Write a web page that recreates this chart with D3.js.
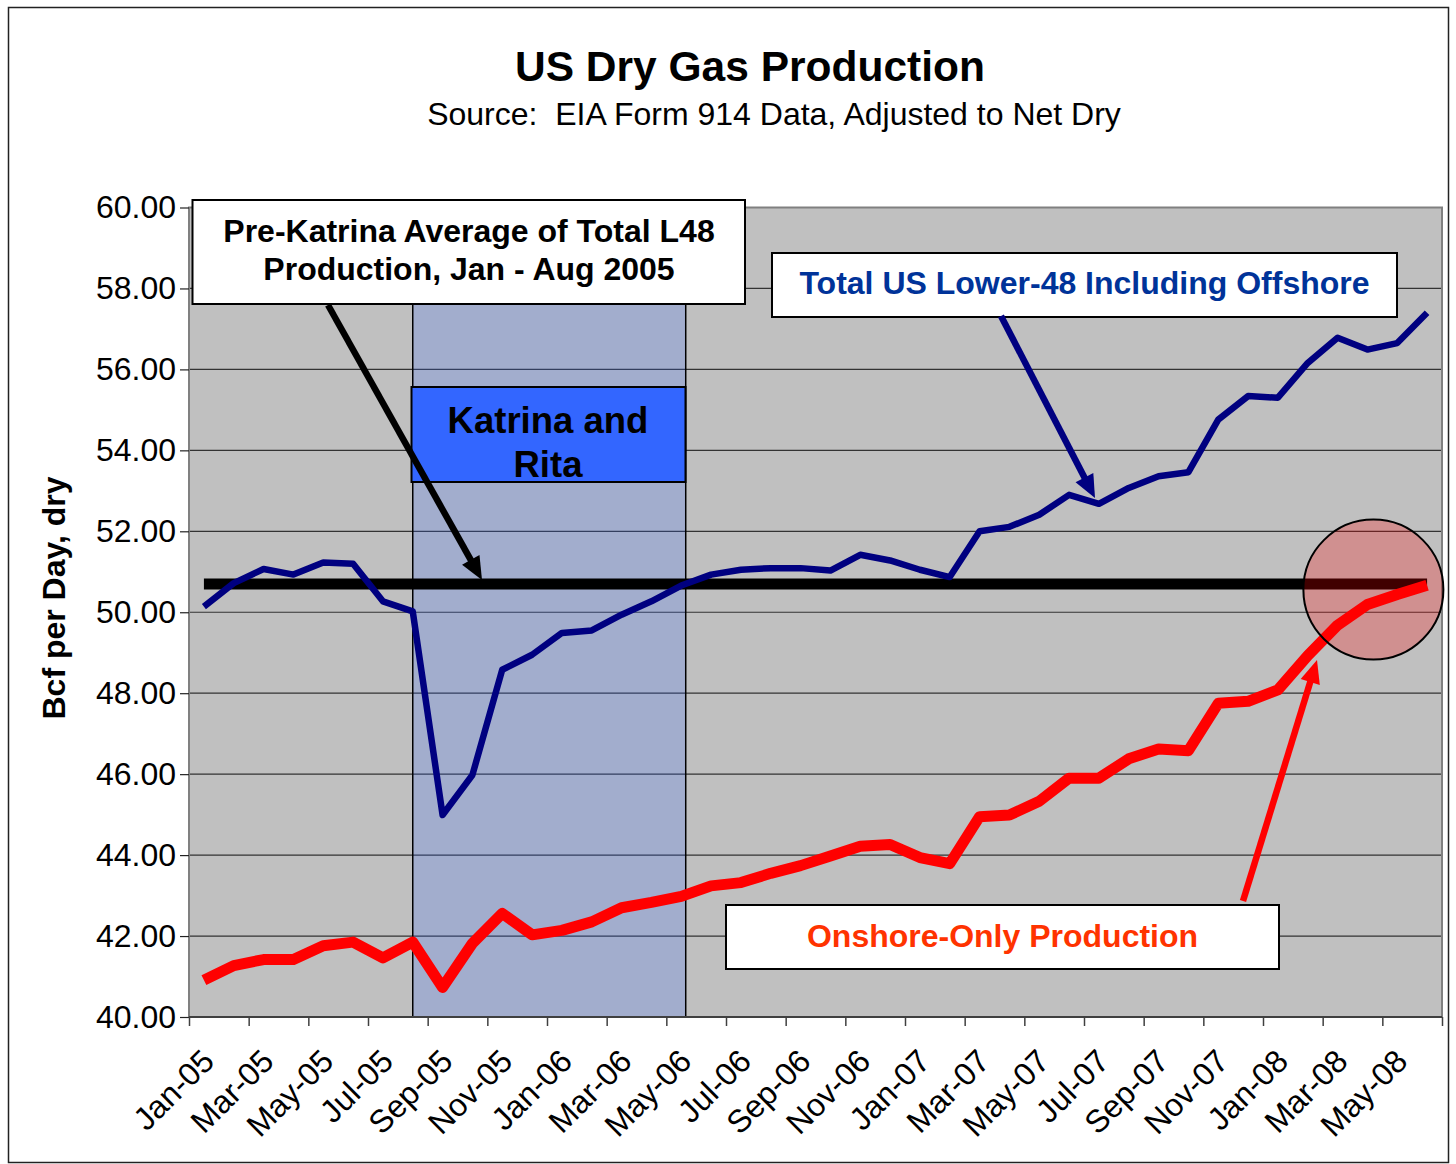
<!DOCTYPE html>
<html>
<head>
<meta charset="utf-8">
<script src="https://cdn.jsdelivr.net/npm/d3@7"></script>
<style>
  body { margin: 0; background: #fff; }
  svg text { font-family: "Liberation Sans", Arial, sans-serif; }
</style>
</head>
<body>
<div id="chart"></div>
<script>
// monthly categories, Jan-05 .. Jun-08
const months = [
  "Jan-05", "Feb-05", "Mar-05", "Apr-05", "May-05", "Jun-05", "Jul-05", "Aug-05", "Sep-05", "Oct-05", "Nov-05", "Dec-05",
  "Jan-06", "Feb-06", "Mar-06", "Apr-06", "May-06", "Jun-06", "Jul-06", "Aug-06", "Sep-06", "Oct-06", "Nov-06", "Dec-06",
  "Jan-07", "Feb-07", "Mar-07", "Apr-07", "May-07", "Jun-07", "Jul-07", "Aug-07", "Sep-07", "Oct-07", "Nov-07", "Dec-07",
  "Jan-08", "Feb-08", "Mar-08", "Apr-08", "May-08", "Jun-08"
];

// Bcf per day, dry
const totalL48 = [
  50.14, 50.72, 51.07, 50.93, 51.23, 51.20, 50.27, 50.02, 44.99, 45.98, 48.58, 48.95,
  49.49, 49.55, 49.94, 50.27, 50.66, 50.93, 51.05, 51.09, 51.09, 51.03, 51.42, 51.28,
  51.05, 50.87, 52.00, 52.11, 52.41, 52.90, 52.68, 53.07, 53.36, 53.46, 54.76, 55.34,
  55.30, 56.16, 56.78, 56.49, 56.65, 57.40
];

const onshore = [
  40.91, 41.27, 41.42, 41.42, 41.76, 41.85, 41.46, 41.85, 40.73, 41.82, 42.56, 42.03,
  42.14, 42.35, 42.70, 42.83, 42.98, 43.24, 43.32, 43.55, 43.74, 43.98, 44.22, 44.26,
  43.94, 43.79, 44.95, 44.99, 45.33, 45.90, 45.90, 46.38, 46.62, 46.58, 47.75, 47.80,
  48.08, 48.93, 49.68, 50.19, 50.44, 50.67
];

const yTicks = [40, 42, 44, 46, 48, 50, 52, 54, 56, 58, 60];

// Katrina / Rita period, in month-index units (Aug-05 .. early Jun-06)
const katrinaSpan = [7, 16.15];

const width = 1456, height = 1164;
const plot = { left: 189, right: 1442, top: 207.5, bottom: 1017 };
const font = '"Liberation Sans", Arial, sans-serif';

const svg = d3.select("#chart").append("svg")
  .attr("width", width)
  .attr("height", height);

const x = d3.scaleLinear().domain([0, months.length]).range([plot.left, plot.right]);
const xc = i => x(i + 0.5);
const y = d3.scaleLinear().domain([40, 60]).range([plot.bottom, plot.top]);

// outer frame
svg.append("rect")
  .attr("x", 8.5).attr("y", 7.5)
  .attr("width", 1440).attr("height", 1155)
  .attr("fill", "#fff").attr("stroke", "#222").attr("stroke-width", 1.5);

// titles
svg.append("text")
  .attr("x", 750).attr("y", 81)
  .attr("text-anchor", "middle")
  .style("font-size", "42.5px").style("font-weight", "bold")
  .text("US Dry Gas Production");

svg.append("text")
  .attr("x", 774).attr("y", 125)
  .attr("text-anchor", "middle")
  .style("font-size", "32px").style("white-space", "pre")
  .text("Source:  EIA Form 914 Data, Adjusted to Net Dry");

// plot area
svg.append("rect")
  .attr("x", plot.left).attr("y", plot.top)
  .attr("width", plot.right - plot.left).attr("height", plot.bottom - plot.top)
  .attr("fill", "#C0C0C0");

svg.append("g")
  .selectAll("line")
  .data(yTicks.filter(v => v > 40 && v < 60))
  .enter()
  .append("line")
  .attr("x1", plot.left).attr("x2", plot.right)
  .attr("y1", d => y(d)).attr("y2", d => y(d))
  .attr("stroke", "#333").attr("stroke-width", 1.2);

// shaded hurricane period
svg.append("rect")
  .attr("x", xc(katrinaSpan[0]))
  .attr("y", y(60))
  .attr("width", xc(katrinaSpan[1]) - xc(katrinaSpan[0]))
  .attr("height", y(40) - y(60))
  .attr("fill", "#3366FF").attr("fill-opacity", 0.21)
  .attr("stroke", "#000").attr("stroke-width", 1.5);

// plot border
svg.append("rect")
  .attr("x", plot.left).attr("y", plot.top)
  .attr("width", plot.right - plot.left).attr("height", plot.bottom - plot.top)
  .attr("fill", "none").attr("stroke", "#808080").attr("stroke-width", 2);

svg.append("line")
  .attr("x1", plot.left).attr("x2", plot.right)
  .attr("y1", plot.bottom).attr("y2", plot.bottom)
  .attr("stroke", "#404040").attr("stroke-width", 2);

// y axis
const yAxis = svg.append("g")
  .attr("transform", `translate(${plot.left},0)`)
  .call(d3.axisLeft(y).tickValues(yTicks).tickFormat(d3.format(".2f")).tickSize(9).tickSizeOuter(0).tickPadding(4));
yAxis.select(".domain").remove();
yAxis.selectAll(".tick line").attr("stroke", "#222").attr("stroke-width", 1.2);
yAxis.selectAll(".tick text")
  .attr("fill", "#000")
  .style("font-size", "32px").style("font-family", font);

// x axis ticks at every second month boundary
const xAxis = svg.append("g")
  .attr("transform", `translate(0,${plot.bottom})`)
  .call(d3.axisBottom(x).tickValues(d3.range(0, months.length + 1, 2)).tickFormat("").tickSize(9).tickSizeOuter(0));
xAxis.select(".domain").remove();
xAxis.selectAll(".tick line").attr("stroke", "#404040").attr("stroke-width", 1.5);

svg.append("g")
  .selectAll("text")
  .data(months.map((m, i) => ({ m, i })).filter(d => d.i % 2 === 0))
  .enter()
  .append("text")
  .attr("transform", d => `translate(${xc(d.i) - 4},${plot.bottom + 30}) rotate(-45)`)
  .attr("text-anchor", "end")
  .attr("dy", "0.71em")
  .style("font-size", "32px")
  .text(d => d.m);

// y axis title
svg.append("text")
  .attr("transform", "translate(65,598) rotate(-90)")
  .attr("text-anchor", "middle")
  .style("font-size", "32px").style("font-weight", "bold")
  .text("Bcf per Day, dry");

// series
const preKatrinaAvg = d3.mean(totalL48.slice(0, 8));
const avgLine = months.map(() => preKatrinaAvg);

const line = d3.line().x((d, i) => xc(i)).y(d => y(d));

svg.append("path").datum(avgLine)
  .attr("d", line).attr("fill", "none")
  .attr("stroke", "#000").attr("stroke-width", 11);

svg.append("path").datum(totalL48)
  .attr("d", line).attr("fill", "none")
  .attr("stroke", "#000080").attr("stroke-width", 6.5)
  .attr("stroke-linejoin", "round");

svg.append("path").datum(onshore)
  .attr("d", line).attr("fill", "none")
  .attr("stroke", "#FF0000").attr("stroke-width", 11)
  .attr("stroke-linejoin", "round");

// annotations
function box(x0, y0, x1, y1, fill) {
  svg.append("rect")
    .attr("x", x0).attr("y", y0)
    .attr("width", x1 - x0).attr("height", y1 - y0)
    .attr("fill", fill).attr("stroke", "#000").attr("stroke-width", 2);
}

function label(cx, by, txt, size, color) {
  svg.append("text")
    .attr("x", cx).attr("y", by)
    .attr("text-anchor", "middle")
    .attr("fill", color)
    .style("font-size", size + "px").style("font-weight", "bold")
    .text(txt);
}

function arrow(x0, y0, x1, y1, color) {
  const len = Math.hypot(x1 - x0, y1 - y0);
  const ux = (x1 - x0) / len, uy = (y1 - y0) / len;
  const head = 23, half = 10;
  const bx = x1 - ux * head, by = y1 - uy * head;
  svg.append("line")
    .attr("x1", x0).attr("y1", y0).attr("x2", bx + ux * 2).attr("y2", by + uy * 2)
    .attr("stroke", color).attr("stroke-width", 6.5);
  svg.append("path")
    .attr("d", `M${x1},${y1}L${bx - uy * half},${by + ux * half}L${bx + uy * half},${by - ux * half}Z`)
    .attr("fill", color);
}

box(411.5, 387, 685.5, 482, "#3366FF");
label(548, 433, "Katrina and", 36.5, "#000");
label(548, 477, "Rita", 36.5, "#000");

box(192.5, 200, 745, 304, "#fff");
label(469, 241.5, "Pre-Katrina Average of Total L48", 32, "#000");
label(469, 279.5, "Production, Jan - Aug 2005", 32, "#000");

box(772, 253, 1397, 317, "#fff");
label(1084.5, 294, "Total US Lower-48 Including Offshore", 32, "#003399");

box(726, 905, 1279, 969, "#fff");
label(1002.5, 947, "Onshore-Only Production", 32, "#FF3300");

arrow(328, 305, 482, 580, "#000");
arrow(1001, 316, 1095, 498, "#000080");
arrow(1243, 901, 1317, 660, "#FF0000");

svg.append("circle")
  .attr("cx", xc(39.2)).attr("cy", y(50.56)).attr("r", 70)
  .attr("fill", "#FF0000").attr("fill-opacity", 0.25)
  .attr("stroke", "#000").attr("stroke-width", 2);
</script>
</body>
</html>
